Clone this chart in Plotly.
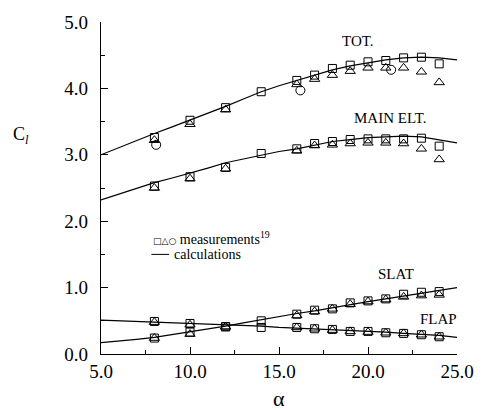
import plotly.graph_objects as go

# ---- data ----
alpha_meas = [8, 10, 12, 14, 16, 17, 18, 19, 20, 21, 22, 23, 24]
alpha_tri = [8, 10, 12, 16, 17, 18, 19, 20, 21, 22, 23, 24]
alpha_circ = [8.1, 16.2, 21.3]

tot_sq = [3.26, 3.52, 3.71, 3.95, 4.12, 4.20, 4.30, 4.35, 4.40, 4.42, 4.46, 4.47, 4.37]
tot_tri = [3.22, 3.46, 3.68, 4.06, 4.14, 4.20, 4.26, 4.31, 4.31, 4.31, 4.25, 4.09]
tot_circ = [3.15, 3.97, 4.28]

main_sq = [2.53, 2.67, 2.81, 3.02, 3.09, 3.17, 3.20, 3.23, 3.24, 3.24, 3.24, 3.25, 3.13]
main_tri = [2.50, 2.64, 2.79, 3.06, 3.14, 3.15, 3.17, 3.18, 3.18, 3.17, 3.09, 2.93]

slat_sq = [0.24, 0.33, 0.41, 0.50, 0.60, 0.66, 0.68, 0.77, 0.80, 0.83, 0.90, 0.93, 0.94]
slat_tri = [0.24, 0.30, 0.41, 0.58, 0.64, 0.68, 0.75, 0.79, 0.82, 0.86, 0.88, 0.89]

flap_sq = [0.49, 0.46, 0.41, 0.40, 0.40, 0.38, 0.37, 0.34, 0.34, 0.32, 0.31, 0.29, 0.26]
flap_tri = [0.48, 0.44, 0.41, 0.40, 0.38, 0.36, 0.34, 0.33, 0.32, 0.31, 0.29, 0.26]

alpha_calc = [5, 6, 7, 8, 9, 10, 11, 12, 13, 14, 15, 16, 17, 18, 19, 20, 21, 22, 23, 24, 25]
tot_calc = [3.00, 3.11, 3.21, 3.32, 3.42, 3.52, 3.62, 3.73, 3.84, 3.95, 4.04, 4.12, 4.20,
            4.28, 4.34, 4.39, 4.43, 4.46, 4.47, 4.46, 4.43]
main_calc = [2.32, 2.41, 2.50, 2.58, 2.65, 2.72, 2.80, 2.88, 2.94, 3.00, 3.05, 3.09, 3.15,
             3.20, 3.23, 3.26, 3.27, 3.28, 3.27, 3.23, 3.18]
slat_calc = [0.17, 0.19, 0.22, 0.25, 0.29, 0.33, 0.37, 0.42, 0.47, 0.52, 0.56, 0.61, 0.65,
             0.70, 0.74, 0.79, 0.83, 0.87, 0.91, 0.95, 1.00]
flap_calc = [0.51, 0.50, 0.50, 0.49, 0.48, 0.47, 0.46, 0.44, 0.43, 0.42, 0.40, 0.39, 0.38,
             0.37, 0.35, 0.34, 0.33, 0.31, 0.30, 0.28, 0.25]

x_ticks = [5, 10, 15, 20, 25]
x_ticklabels = ["5.0", "10.0", "15.0", "20.0", "25.0"]
y_ticks = [0, 1, 2, 3, 4, 5]
y_ticklabels = ["0.0", "1.0", "2.0", "3.0", "4.0", "5.0"]

SERIF = "Times New Roman"
fig = go.Figure()

for yc in [tot_calc, main_calc, slat_calc, flap_calc]:
    fig.add_trace(go.Scatter(x=alpha_calc, y=yc, mode="lines",
                             line=dict(color="black", width=1.2), showlegend=False))

def add_marks(xs, ys, sym, size=8):
    fig.add_trace(go.Scatter(x=xs, y=ys, mode="markers", showlegend=False,
                             marker=dict(symbol=sym, size=size, color="black",
                                         line=dict(color="black", width=1))))

for ys in [tot_sq, main_sq, slat_sq, flap_sq]:
    add_marks(alpha_meas, ys, "square-open")
for ys in [tot_tri, main_tri, slat_tri, flap_tri]:
    add_marks(alpha_tri, ys, "triangle-up-open", 9)
add_marks(alpha_circ, tot_circ, "circle-open", 9)

labels = [("TOT.", 19.46, 4.71), ("MAIN ELT.", 21.29, 3.55),
          ("SLAT", 21.57, 1.20), ("FLAP", 23.95, 0.53)]
for t, x, y in labels:
    fig.add_annotation(x=x, y=y, text=t, showarrow=False, xanchor="center", yanchor="middle",
                       font=dict(family=SERIF, size=15, color="black"))

# legend
fig.add_annotation(x=7.8, y=1.745, xanchor="left", yanchor="middle", text=
                   '<span style="font-family:DejaVu Sans;font-size:9px">□△○</span> measurements<sup>19</sup>',
                   showarrow=False, font=dict(family=SERIF, size=14, color="black"))
fig.add_shape(type="line", x0=7.83, x1=8.83, y0=1.50, y1=1.50,
              line=dict(color="black", width=1))
fig.add_annotation(x=9.0, y=1.50, xanchor="left", yanchor="middle", text="calculations",
                   showarrow=False, font=dict(family=SERIF, size=14, color="black"))

# axis titles
fig.add_annotation(xref="paper", yref="paper", x=-0.225, y=0.657, xanchor="center",
                   yanchor="middle", text="C<sub><i>l</i></sub>",
                   showarrow=False, font=dict(family=SERIF, size=18, color="black"))
fig.add_annotation(xref="paper", yref="paper", x=0.501, y=-0.135, xanchor="center",
                   yanchor="middle", text="α",
                   showarrow=False, font=dict(family=SERIF, size=22, color="black"))

axis_common = dict(showgrid=False, zeroline=False, showline=True, linecolor="black",
                   linewidth=1.2, ticks="inside", ticklen=7, tickwidth=1, tickcolor="black",
                   tickfont=dict(family=SERIF, size=19, color="black"))
fig.update_xaxes(range=[5, 25], tickvals=x_ticks, ticktext=x_ticklabels,
                 minor=dict(ticks="inside", dtick=2.5, ticklen=4, tickcolor="black"),
                 **axis_common)
fig.update_yaxes(range=[0, 5], tickvals=y_ticks, ticktext=y_ticklabels,
                 ticklabelstandoff=8,
                 minor=dict(ticks="inside", dtick=0.5, ticklen=4, tickcolor="black"),
                 **axis_common)

fig.update_layout(width=486, height=410, margin=dict(l=101, r=24, t=13, b=56),
                  plot_bgcolor="white", paper_bgcolor="white", showlegend=False)

fig.write_html("out.html")
